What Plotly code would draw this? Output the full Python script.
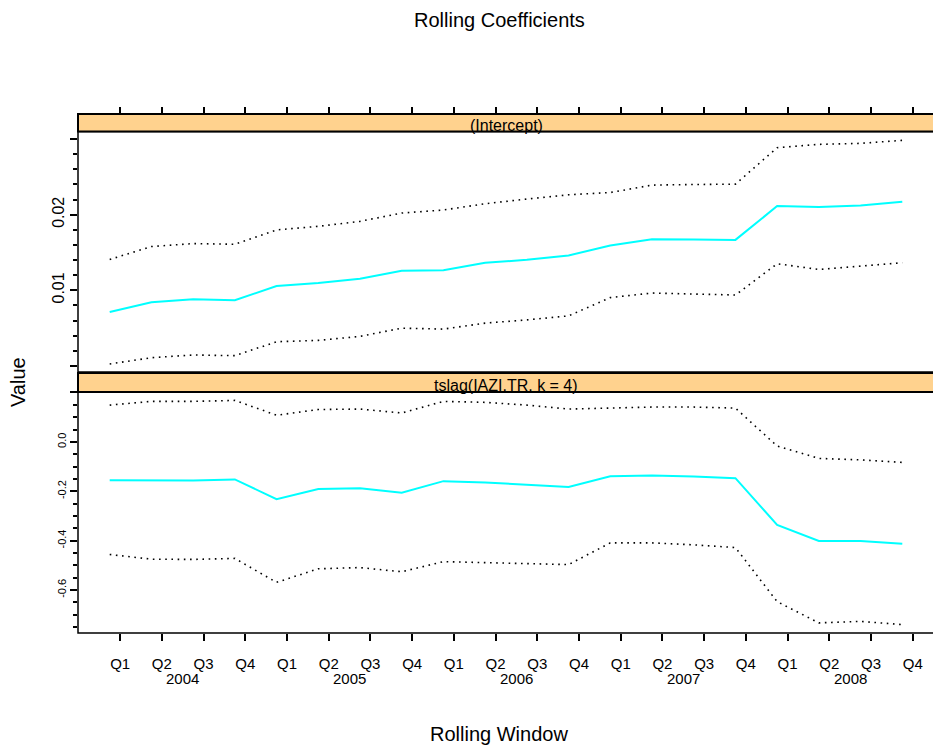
import plotly.graph_objects as go

# ---- data -----------------------------------------------------------------
years = [2004] * 4 + [2005] * 4 + [2006] * 4 + [2007] * 4 + [2008] * 4
quarters = [1, 2, 3, 4] * 5
quarter_labels = ["Q1", "Q2", "Q3", "Q4"] * 5
year_labels = ["2004", "2005", "2006", "2007", "2008"]

intercept_est = [0.00714, 0.00842, 0.00882, 0.00868, 0.01057, 0.01096, 0.01154,
                 0.01259, 0.01267, 0.01364, 0.01404, 0.01461, 0.01592, 0.01675,
                 0.01671, 0.01667, 0.02114, 0.02101, 0.02122, 0.02171]
intercept_upper = [0.01408, 0.01579, 0.01618, 0.01609, 0.01799, 0.01846, 0.01912,
                   0.02022, 0.02062, 0.02145, 0.02207, 0.02263, 0.02293, 0.02391,
                   0.02399, 0.02404, 0.02886, 0.02930, 0.02943, 0.02983]
intercept_lower = [0.00026, 0.00109, 0.00145, 0.00136, 0.00320, 0.00338, 0.00391,
                   0.00500, 0.00487, 0.00566, 0.00609, 0.00662, 0.00904, 0.00964,
                   0.00951, 0.00938, 0.01351, 0.01276, 0.01320, 0.01364]

lag_est = [-0.155, -0.155, -0.156, -0.152, -0.232, -0.191, -0.188, -0.206, -0.159,
           -0.164, -0.174, -0.183, -0.139, -0.136, -0.140, -0.147, -0.336, -0.401,
           -0.401, -0.413]
lag_upper = [0.149, 0.164, 0.164, 0.168, 0.108, 0.131, 0.133, 0.117, 0.164, 0.160,
             0.149, 0.133, 0.137, 0.141, 0.141, 0.137, -0.017, -0.067, -0.073, -0.083]
lag_lower = [-0.456, -0.475, -0.476, -0.472, -0.569, -0.514, -0.509, -0.526, -0.485,
             -0.489, -0.494, -0.497, -0.409, -0.409, -0.417, -0.428, -0.647, -0.733,
             -0.727, -0.740]

# ---- geometry ---------------------------------------------------------------
W, H = 933, 749
ML = 78                      # left margin (px)
PW = W - ML                  # plot width (px)


def fy(px):
    """pixel row -> paper y fraction"""
    return 1 - px / H


def fx(px):
    """pixel column -> paper x fraction"""
    return (px - ML) / PW


t = [y + (q - 1) / 4 for y, q in zip(years, quarters)]
tick_pos = [v + 1 / 16 for v in t]
year_pos = [int(y) + 0.25 + 0.125 + 1 / 16 for y in year_labels]

x_range = [2003.81, 2003.81 + PW / 166.86]

top_dom = [fy(372), fy(131.5)]
bot_dom = [fy(633), fy(392)]
top_strip = [fy(131.5), fy(114)]
bot_strip = [fy(392), fy(373)]

FONT = "Liberation Sans, Arial, sans-serif"
CYAN = "#00ffff"
DOT = dict(color="black", width=1.6, dash="1.6px,4.6px")

fig = go.Figure()


def add_panel(est, up, lo, xa, ya):
    fig.add_trace(go.Scatter(x=t, y=up, mode="lines", line=DOT,
                             xaxis=xa, yaxis=ya, showlegend=False))
    fig.add_trace(go.Scatter(x=t, y=lo, mode="lines", line=DOT,
                             xaxis=xa, yaxis=ya, showlegend=False))
    fig.add_trace(go.Scatter(x=t, y=est, mode="lines",
                             line=dict(color=CYAN, width=2),
                             xaxis=xa, yaxis=ya, showlegend=False))


add_panel(intercept_est, intercept_upper, intercept_lower, "x", "y")
add_panel(lag_est, lag_upper, lag_lower, "x2", "y2")

common_x = dict(range=x_range, showgrid=False, zeroline=False, showline=False,
                tickmode="array", tickvals=tick_pos, ticks="outside",
                tickcolor="black", tickwidth=1.5, ticklen=7)

common_y = dict(showgrid=False, zeroline=False, showline=False, ticks="outside",
                tickcolor="black", tickwidth=1.5, ticklen=7, tickangle=-90,
                tickmode="array")

fig.update_layout(
    width=W, height=H,
    margin=dict(l=ML, r=0, t=0, b=0),
    paper_bgcolor="white", plot_bgcolor="white",
    font=dict(family=FONT, color="black"),
    xaxis=dict(**common_x, anchor="free", position=top_strip[1], side="top",
               showticklabels=False),
    xaxis2=dict(**common_x, anchor="y2", matches="x", side="bottom",
                ticktext=quarter_labels, ticklabelstandoff=10,
                tickfont=dict(size=15, family=FONT, color="black")),
    yaxis=dict(**common_y, domain=top_dom, anchor="x",
               range=[-0.0008, 0.0310],
               tickvals=[0, 0.01, 0.02, 0.03], ticktext=["", "0.01", "0.02", ""],
               tickfont=dict(size=16, family=FONT, color="black"),
               minor=dict(ticks="outside", ticklen=4, tickwidth=1.5,
                          tickcolor="black", dtick=0.002, tick0=0)),
    yaxis2=dict(**common_y, domain=bot_dom, anchor="x2",
                range=[-0.774, 0.202],
                tickvals=[-0.6, -0.4, -0.2, 0.0, 0.2],
                ticktext=["-0.6", "-0.4", "-0.2", "0.0", ""],
                tickfont=dict(size=11, family=FONT, color="black"),
                minor=dict(ticks="outside", ticklen=4, tickwidth=1.5,
                           tickcolor="black", dtick=0.05, tick0=0)),
)

# panel frames and strips
shapes = []
for dom in (top_dom, bot_dom):
    shapes.append(dict(type="rect", xref="paper", yref="paper",
                       x0=0, x1=1.004, y0=dom[0], y1=dom[1],
                       line=dict(color="black", width=1.5), layer="above"))
for st in (top_strip, bot_strip):
    shapes.append(dict(type="rect", xref="paper", yref="paper",
                       x0=0, x1=1.004, y0=st[0], y1=st[1],
                       fillcolor="#ffd28e",
                       line=dict(color="black", width=2), layer="above"))
fig.update_layout(shapes=shapes)

ann = []
strip_names = ["(Intercept)", "tslag(IAZI.TR, k = 4)"]
for name, st in zip(strip_names, (top_strip, bot_strip)):
    ann.append(dict(text=name, xref="paper", yref="paper",
                    x=fx(506), y=(st[0] + st[1]) / 2 - 3 / H,
                    xanchor="center", yanchor="middle", showarrow=False,
                    font=dict(size=16, family=FONT, color="black")))
for yl, yp in zip(year_labels, year_pos):
    ann.append(dict(text=yl, xref="x2", yref="paper", x=yp, y=fy(678),
                    xanchor="center", yanchor="middle", showarrow=False,
                    font=dict(size=15, family=FONT, color="black")))
ann.append(dict(text="Rolling Coefficients", xref="paper", yref="paper",
                x=fx(499), y=fy(20), xanchor="center", yanchor="middle",
                showarrow=False, font=dict(size=20, family=FONT, color="black")))
ann.append(dict(text="Rolling Window", xref="paper", yref="paper",
                x=fx(499), y=fy(734), xanchor="center", yanchor="middle",
                showarrow=False, font=dict(size=20, family=FONT, color="black")))
ann.append(dict(text="Value", xref="paper", yref="paper",
                x=fx(18), y=fy(382), xanchor="center", yanchor="middle",
                textangle=-90, showarrow=False,
                font=dict(size=20, family=FONT, color="black")))
fig.update_layout(annotations=ann)

fig.write_html("out.html")
